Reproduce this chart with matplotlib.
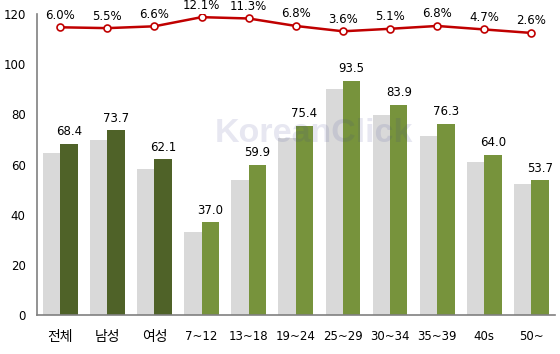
import matplotlib.pyplot as plt
import numpy as np

plt.rcParams['font.family'] = ['DejaVu Sans', 'Noto Sans CJK KR']

categories = ['전체', '남성', '여성', '7~12', '13~18', '19~24', '25~29', '30~34', '35~39', '40s', '50~']
prev_values = [64.5, 69.9, 58.3, 33.0, 53.8, 70.6, 90.3, 79.8, 71.4, 61.1, 52.3]
curr_values = [68.4, 73.7, 62.1, 37.0, 59.9, 75.4, 93.5, 83.9, 76.3, 64.0, 53.7]
growth = [6.0, 5.5, 6.6, 12.1, 11.3, 6.8, 3.6, 5.1, 6.8, 4.7, 2.6]
y_ticks = [0, 20, 40, 60, 80, 100, 120]

gray = '#D9D9D9'
dark_green = '#4F6228'
green = '#77933C'
red = '#C00000'

fig = plt.figure(figsize=(5.6, 3.54), dpi=100)
ax = fig.add_axes([0.0655, 0.110, 0.9255, 0.850])

x = np.arange(len(categories))
w = 0.37
curr_colors = [dark_green] * 3 + [green] * (len(categories) - 3)
ax.bar(x - w / 2, prev_values, width=w, color=gray, zorder=2)
bars = ax.bar(x + w / 2, curr_values, width=w, color=curr_colors, zorder=2)
for b, v in zip(bars, curr_values):
    ax.annotate(f'{v:.1f}', (b.get_x() + b.get_width() / 2, v), xytext=(0, 4),
                textcoords='offset points', ha='center', va='bottom', fontsize=8.5)

ax.set_xlim(-0.5, len(categories) - 0.5)
ax.set_ylim(0, 120)
ax.set_yticks(y_ticks)
ax.set_xticks(x)
ax.set_xticklabels(categories)
ax.tick_params(axis='y', length=0, pad=8, labelsize=8.5)
ax.tick_params(axis='x', length=0, pad=11, labelsize=8.5)
for t in ax.get_xticklabels()[:3]:
    t.set_fontsize(10)
for s in ['top', 'right']:
    ax.spines[s].set_visible(False)
for s in ['left', 'bottom']:
    ax.spines[s].set_color('#808080')
    ax.spines[s].set_linewidth(1.2)

# watermark
ax.text(0.535, 0.605, 'KoreanClick', transform=ax.transAxes, ha='center', va='center',
        family='Liberation Sans', fontsize=24.5, fontweight='bold', color='#3A3F8F',
        alpha=0.12, zorder=3)

# growth line on hidden secondary scale
ax2 = ax.twinx()
ax2.set_ylim(-167.1, 13.9)
ax2.axis('off')
ax2.plot(x, growth, color=red, lw=1.8, marker='o', markersize=5,
         markerfacecolor='white', markeredgecolor=red, markeredgewidth=1.2, zorder=4)
for xi, g in zip(x, growth):
    ax2.annotate(f'{g:.1f}%', (xi, g), xytext=(0, 4), textcoords='offset points',
                 ha='center', va='bottom', fontsize=8.5)

fig.savefig('out.png', dpi=100)
